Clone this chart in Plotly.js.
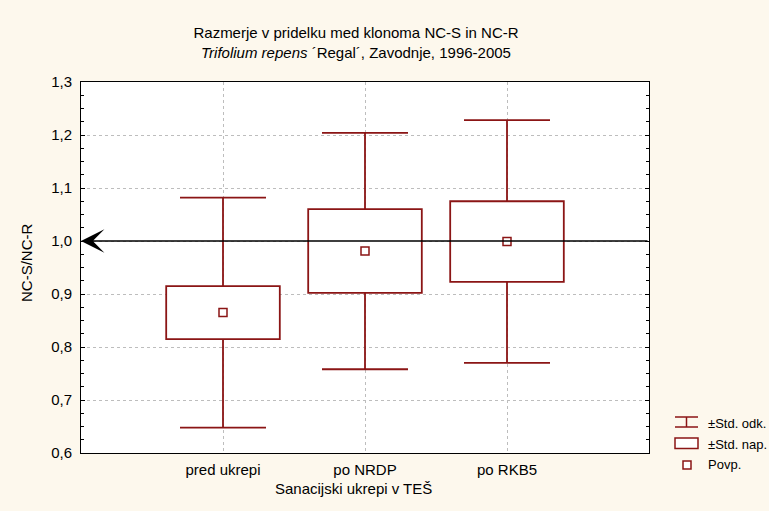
<!DOCTYPE html>
<html>
<head>
<meta charset="utf-8">
<script src="https://cdn.plot.ly/plotly-3.0.1.min.js"></script>
<style>
  html, body { margin: 0; padding: 0; background: #fdf8ed; }
  #chart { width: 769px; height: 511px; }
</style>
</head>
<body>
<div id="chart"></div>
<script>
// Yield ratio NC-S / NC-R per remediation period
const categories = ['pred ukrepi', 'po NRDP', 'po RKB5'];
const means      = [0.865, 0.981, 0.999];
const stdErr     = [0.050, 0.079, 0.076];   // ±Std. nap. (box)
const stdDev     = [0.217, 0.223, 0.229];   // ±Std. odk. (whiskers)
const refValue   = 1.0;
const legendLabels = ['±Std. odk.', '±Std. nap.', 'Povp.'];

const RED = '#8b1515';
const FONT = '"Liberation Sans", Arial, sans-serif';
const LW = 1.8;

const boxLo = means.map((m, i) => m - stdErr[i]);
const boxHi = means.map((m, i) => m + stdErr[i]);

// plot-area geometry (pixels) used for the hand-built legend
const W = 769, H = 511;
const M = { l: 81, r: 120, t: 82, b: 58 };
const PW = W - M.l - M.r, PH = H - M.t - M.b;
const px = x => (x - M.l) / PW;
const py = y => (H - M.b - y) / PH;

const traces = [
  // ±Std. odk. whiskers: error bars around the mean (the bar itself is invisible)
  {
    type: 'bar',
    x: categories,
    y: means,
    width: 0.8,
    marker: { color: 'rgba(0,0,0,0)', line: { width: 0 } },
    error_y: { type: 'data', symmetric: true, array: stdDev,
               color: RED, thickness: LW, width: 43 },
    hoverinfo: 'skip',
    showlegend: false
  },
  // ±Std. nap. boxes, drawn over the inner part of the whiskers
  {
    type: 'bar',
    x: categories,
    base: boxLo,
    y: boxHi.map((h, i) => h - boxLo[i]),
    width: 0.8,
    marker: { color: '#ffffff', line: { color: RED, width: LW } },
    hoverinfo: 'skip',
    showlegend: false
  },
  // means
  {
    type: 'scatter',
    mode: 'markers',
    x: categories,
    y: means,
    marker: { symbol: 'square-open', size: 8, color: RED, line: { color: RED, width: 1.5 } },
    hoverinfo: 'skip',
    showlegend: false
  }
];

const legendShapes = [
  // whisker icon
  { type: 'line', xref: 'paper', yref: 'paper', x0: px(675), x1: px(698), y0: py(417), y1: py(417), line: { color: RED, width: 1.5 } },
  { type: 'line', xref: 'paper', yref: 'paper', x0: px(675), x1: px(698), y0: py(427), y1: py(427), line: { color: RED, width: 1.5 } },
  { type: 'line', xref: 'paper', yref: 'paper', x0: px(686.5), x1: px(686.5), y0: py(417), y1: py(427), line: { color: RED, width: 1.5 } },
  // box icon
  { type: 'rect', xref: 'paper', yref: 'paper', x0: px(675), x1: px(698), y0: py(438), y1: py(448.5), fillcolor: '#ffffff', line: { color: RED, width: 1.5 } },
  // mean icon
  { type: 'rect', xref: 'paper', yref: 'paper', x0: px(683), x1: px(691), y0: py(461), y1: py(469), fillcolor: '#ffffff', line: { color: RED, width: 1.5 } }
];

const legendText = legendLabels.map((t, i) => ({
  text: t, xref: 'paper', yref: 'paper',
  x: px(706), y: py([423, 444, 465][i]),
  xanchor: 'left', yanchor: 'middle', showarrow: false,
  font: { family: FONT, size: 13, color: '#000' }
}));

const layout = {
  width: W, height: H,
  margin: M,
  paper_bgcolor: '#fdf8ed',
  plot_bgcolor: '#ffffff',
  separators: ', ',
  font: { family: FONT, size: 15, color: '#000' },
  showlegend: false,
  barmode: 'overlay',
  title: {
    text: 'Razmerje v pridelku med klonoma NC-S in NC-R<br><i>Trifolium repens</i> ´Regal´, Zavodnje, 1996-2005',
    xref: 'container', x: 356 / W, xanchor: 'center',
    yref: 'container', y: 1 - 38 / H, yanchor: 'middle',
    font: { family: FONT, size: 15, color: '#000' }
  },
  xaxis: {
    type: 'category',
    range: [-1, 3],
    showgrid: true, gridcolor: '#bdbdbd', griddash: 'dot', gridwidth: 1,
    showline: true, mirror: true, linecolor: '#000', linewidth: 1,
    ticks: '', zeroline: false,
    tickfont: { family: FONT, size: 15, color: '#000' },
    ticklabelstandoff: 3,
    fixedrange: true
  },
  yaxis: {
    range: [0.6, 1.3],
    dtick: 0.1, tick0: 0.6,
    tickformat: '.1f',
    showgrid: true, gridcolor: '#bdbdbd', griddash: 'dot', gridwidth: 1,
    showline: true, mirror: 'allticks', linecolor: '#000', linewidth: 1,
    ticks: 'inside', ticklen: 4, tickcolor: '#000',
    minor: { dtick: 0.025, ticks: 'inside', ticklen: 3, tickcolor: '#000', showgrid: false },
    zeroline: false,
    tickfont: { family: FONT, size: 15, color: '#000' },
    ticklabelstandoff: 5,
    fixedrange: true
  },
  shapes: legendShapes,
  annotations: [
    // reference line at 1,0 with arrow pointing to the left axis
    {
      xref: 'paper', x: 0, yref: 'y', y: refValue,
      axref: 'pixel', ax: PW, ayref: 'pixel', ay: 0,
      text: '', showarrow: true,
      arrowhead: 3, arrowsize: 2.6, arrowwidth: 1.5, arrowcolor: '#000'
    },
    {
      text: 'Sanacijski ukrepi v TEŠ', xref: 'paper', yref: 'paper',
      x: px(353), y: py(489), xanchor: 'center', yanchor: 'middle', showarrow: false,
      font: { family: FONT, size: 15, color: '#000' }
    },
    {
      text: 'NC-S/NC-R', xref: 'paper', yref: 'paper', textangle: -90,
      x: px(26), y: py(263), xanchor: 'center', yanchor: 'middle', showarrow: false,
      font: { family: FONT, size: 15, color: '#000' }
    }
  ].concat(legendText)
};

Plotly.newPlot('chart', traces, layout, { displayModeBar: false, staticPlot: true });
</script>
</body>
</html>
